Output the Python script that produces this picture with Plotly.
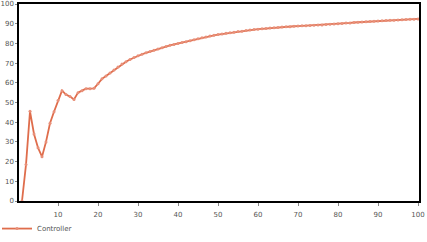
import plotly.graph_objects as go

x_vals = list(range(1, 101))
controller = [
    0.0, 18.5, 45.5, 34.0, 27.0, 22.5, 30.0, 39.5, 45.3, 51.0,
    56.0, 54.0, 53.0, 51.5, 55.0, 56.0, 57.0, 57.0, 57.2, 59.5,
    62.0, 63.5, 65.0, 66.5, 68.0, 69.5, 70.7, 71.8, 72.8, 73.7,
    74.5, 75.2, 75.9, 76.5, 77.2, 77.8, 78.4, 79.0, 79.5, 80.0,
    80.4, 80.9, 81.4, 81.8, 82.4, 82.9, 83.3, 83.7, 84.1, 84.5,
    84.8, 85.1, 85.4, 85.7, 86.0, 86.2, 86.5, 86.8, 87.0, 87.2,
    87.4, 87.6, 87.8, 88.0, 88.1, 88.3, 88.4, 88.5, 88.7, 88.8,
    88.9, 89.0, 89.1, 89.2, 89.3, 89.4, 89.6, 89.7, 89.9, 90.0,
    90.1, 90.3, 90.4, 90.6, 90.7, 90.8, 91.0, 91.1, 91.2, 91.4,
    91.5, 91.6, 91.7, 91.8, 91.9, 92.0, 92.1, 92.2, 92.3, 92.4,
]
x_ticks = [10, 20, 30, 40, 50, 60, 70, 80, 90, 100]
y_ticks = [0, 10, 20, 30, 40, 50, 60, 70, 80, 90, 100]

color = "#DF6D4C"
fig = go.Figure()
fig.add_trace(go.Scatter(
    x=x_vals, y=controller, mode="lines+markers", name="Controller",
    line=dict(color=color, width=1.8),
    marker=dict(color="#E8907A", size=3, line=dict(width=0)),
))

axis_font = dict(family="DejaVu Sans", size=7, color="#555555")
fig.update_layout(
    width=427, height=242,
    margin=dict(l=19, r=8, t=4, b=41, autoexpand=False),
    paper_bgcolor="white", plot_bgcolor="white",
    showlegend=True,
    legend=dict(orientation="h", x=-0.055, xanchor="left", y=-0.14, yanchor="middle",
                font=dict(family="DejaVu Sans", size=7, color="#555555"),
                bgcolor="rgba(0,0,0,0)", itemwidth=30),
    xaxis=dict(range=[0.25, 100.25], tickvals=x_ticks, showgrid=False, zeroline=False,
               showline=True, linecolor="black", linewidth=1.5, mirror=True, automargin=False,
               ticks="outside", ticklen=3, tickcolor="#888888", tickfont=axis_font,
               ticklabelstandoff=3),
    yaxis=dict(range=[0, 100], tickvals=y_ticks, showgrid=False, zeroline=False,
               showline=True, linecolor="black", linewidth=1.5, mirror=True, automargin=False,
               ticks="outside", ticklen=2, tickcolor="#888888", tickfont=axis_font),
)
fig.write_html("out.html")
